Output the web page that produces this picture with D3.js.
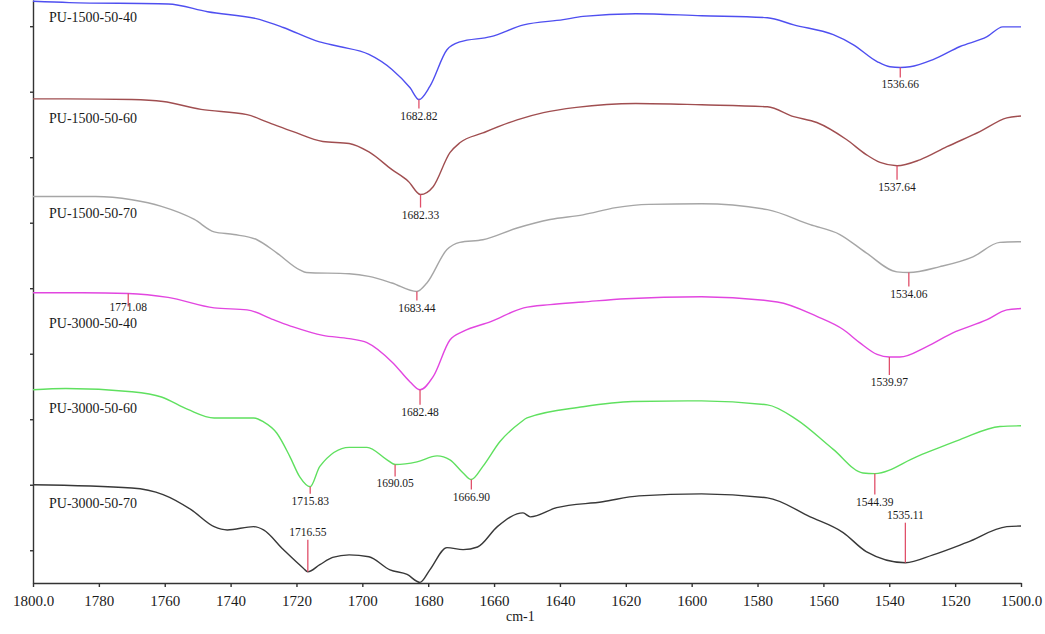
<!DOCTYPE html>
<html>
<head>
<meta charset="utf-8">
<script src="https://cdn.jsdelivr.net/npm/d3@7"></script>
<style>
  body { margin: 0; background: #fff; }
  svg { display: block; font-family: "Liberation Serif", "Times New Roman", serif; }
</style>
</head>
<body>
<svg></svg>
<script>
let width = 1045
let height = 634

// FTIR spectra, [wavenumber cm-1, offset transmittance]
let names = ['PU-1500-50-40', 'PU-1500-50-60', 'PU-1500-50-70', 'PU-3000-50-40', 'PU-3000-50-60', 'PU-3000-50-70']
let colors = ['#4f4ff0', '#a04e50', '#a6a6a6', '#e246e0', '#5fe05f', '#383838']

let pu1500_40 = [[1800, 88.8], [1789, 88.6], [1759, 88.4], [1747, 87.2], [1731, 86.0], [1724, 84.8], [1713, 82.6], [1707, 81.9],
  [1698, 80.7], [1691, 78.4], [1685.5, 75.6], [1682.82, 73.8], [1679.5, 75.8], [1674.3, 81.4], [1670.4, 82.6], [1661, 83.4],
  [1651, 85.2], [1639, 86.0], [1633, 86.5], [1617, 86.9], [1597, 86.6], [1577, 86.3], [1569, 85.2], [1557, 83.7], [1551, 82.2],
  [1543.7, 79.6], [1539.8, 78.8], [1536.66, 78.7], [1533.7, 78.8], [1526.7, 79.9], [1518.5, 81.9], [1510.3, 83.4], [1505.5, 84.9], [1500, 84.9]]

let pu1500_60 = [[1800, 73.9], [1790, 73.9], [1770, 73.8], [1760.5, 73.5], [1749, 72.3], [1735, 71.5], [1729, 70.4], [1721, 68.9],
  [1712, 67.4], [1704, 67.1], [1698, 65.8], [1691, 63.1], [1686, 61.3], [1682.33, 59.3], [1678.5, 60.5], [1673.4, 65.7], [1670.4, 67.2],
  [1663.4, 68.7], [1653, 70.7], [1645, 71.8], [1635, 72.6], [1617, 73.2], [1597, 73.0], [1577, 72.7], [1569, 71.2], [1562, 70.3],
  [1553, 67.7], [1547, 65.4], [1542.8, 64.2], [1537.64, 63.7], [1530.7, 64.6], [1522.5, 66.6], [1512.5, 68.9], [1504.3, 71.0], [1500, 71.3]]

let pu1500_70 = [[1800, 59.0], [1781, 59.0], [1770, 58.5], [1761, 57.5], [1751, 55.5], [1745, 53.6], [1739, 53.2], [1732, 52.4],
  [1726, 50.4], [1719, 47.8], [1717, 47.4], [1704, 47.2], [1698, 46.8], [1691, 45.8], [1683.44, 44.5], [1680.4, 45.8], [1674.3, 50.9],
  [1670.4, 52.0], [1663.4, 52.4], [1653, 54.2], [1643, 55.5], [1633, 56.2], [1623, 57.3], [1613, 57.8], [1597, 57.9], [1577, 57.0],
  [1564, 54.7], [1555, 53.2], [1547, 50.4], [1537.7, 47.5], [1534.06, 47.4], [1524.6, 48.3], [1514.6, 49.8], [1506.4, 52.0], [1500, 52.1]]

let pu3000_40 = [[1800, 44.3], [1785, 44.3], [1771.08, 44.2], [1759, 43.6], [1745, 42.0], [1735, 41.7], [1727, 40.2], [1721, 39.1],
  [1712, 37.8], [1704, 37.3], [1698.6, 36.7], [1690.7, 33.6], [1685.5, 30.7], [1682.48, 29.5], [1678.5, 31.5], [1673.4, 37.1],
  [1669.4, 38.4], [1661, 39.9], [1651, 42.0], [1643, 42.5], [1633, 42.9], [1620, 43.4], [1597, 43.7], [1574, 42.9], [1562, 40.7],
  [1554, 38.7], [1549, 36.7], [1543.7, 34.9], [1539.97, 34.5], [1536.8, 34.5], [1528.6, 36.1], [1520.7, 38.2], [1510.3, 40.2],
  [1504.3, 41.7], [1500, 41.9]]

let pu3000_60 = [[1800, 29.5], [1790, 29.7], [1770, 29.2], [1761, 28.4], [1753, 26.5], [1745, 25.2], [1733, 25.2], [1730, 24.6],
  [1726, 22.9], [1722, 19.3], [1719, 16.2], [1715.83, 14.7], [1712.9, 17.8], [1704, 20.7], [1698.6, 20.7], [1692.5, 18.8],
  [1690.05, 18.1], [1683.4, 18.5], [1677.3, 19.4], [1673.4, 18.8], [1669.4, 16.8], [1666.9, 15.8], [1663.4, 17.8], [1658.2, 21.6],
  [1652, 24.5], [1650, 25.2], [1633, 26.9], [1618, 27.7], [1597, 27.8], [1577, 27.2], [1568, 24.9], [1557, 20.4], [1548, 16.8],
  [1544.39, 16.7], [1531.6, 19.3], [1518.5, 21.9], [1506.4, 23.9], [1500, 24.0]]

let pu3000_70 = [[1800, 15.0], [1770, 14.5], [1760.5, 13.5], [1752, 11.2], [1745, 8.6], [1741, 8.1], [1733, 8.6], [1730, 8.1],
  [1724, 5.1], [1718, 2.3], [1716.55, 1.7], [1712.9, 2.8], [1709, 3.9], [1704, 4.3], [1698, 4.0], [1691.6, 2.0], [1686.4, 1.3],
  [1682.5, 0.1], [1679.5, 2.0], [1674.3, 5.4], [1669.4, 5.1], [1665, 5.5], [1659, 8.6], [1651.2, 10.7], [1649, 10.1], [1641, 11.5],
  [1627, 12.4], [1616, 13.3], [1597, 13.6], [1577, 13.0], [1564, 10.1], [1554, 7.7], [1547, 4.8], [1535.11, 3.1], [1526.7, 4.3],
  [1516.4, 6.2], [1504.3, 8.6], [1500, 8.7]]

let spectra = [pu1500_40, pu1500_60, pu1500_70, pu3000_40, pu3000_60, pu3000_70]

// peak picks: [spectrum index, wavenumber, label]
let peaks = [
  [0, 1682.82, '1682.82'], [0, 1536.66, '1536.66'],
  [1, 1682.33, '1682.33'], [1, 1537.64, '1537.64'],
  [2, 1683.44, '1683.44'], [2, 1534.06, '1534.06'],
  [3, 1771.08, '1771.08'], [3, 1682.48, '1682.48'], [3, 1539.97, '1539.97'],
  [4, 1715.83, '1715.83'], [4, 1690.05, '1690.05'], [4, 1666.90, '1666.90'], [4, 1544.39, '1544.39'],
  [5, 1716.55, '1716.55'], [5, 1535.11, '1535.11']
]

let xTicks = d3.range(1800, 1499, -20)

// marker length in px (negative = marker drawn upward, label above)
let markLen = { '1682.82': 9, '1536.66': 10, '1682.33': 13, '1537.64': 14, '1683.44': 9, '1534.06': 14, '1771.08': 13,
  '1682.48': 15, '1539.97': 18, '1715.83': 7, '1690.05': 12, '1666.90': 10, '1544.39': 21, '1716.55': -32, '1535.11': -40 }
let labelGap = { '1771.08': 5 }
let nameDy = [21, 24, 21, 35, 23, 23]

let xScale = d3.scaleLinear()
                .domain([1800, 1500])
                .range([33, 1021])

let yScale = d3.scaleLinear()
                .domain([0, 89])
                .range([583, 0])

let svg = d3.select('svg')
    .attr('width', width)
    .attr('height', height)

let xAxis = d3.axisBottom(xScale)
              .tickValues(xTicks)
              .tickSize(4)
              .tickSizeOuter(0)
              .tickPadding(8)
              .tickFormat(d => (d === 1800 || d === 1500) ? d.toFixed(1) : d)

let yAxis = d3.axisLeft(yScale)
              .tickValues(d3.range(5, 90, 10))
              .tickSize(3)
              .tickSizeOuter(0)
              .tickFormat('')

let gx = svg.append('g')
    .attr('transform', `translate(0, ${yScale(0)})`)
    .call(xAxis)
gx.selectAll('text')
    .style('font-family', '"Liberation Serif", "Times New Roman", serif')
    .style('font-size', '15px')
    .attr('fill', '#1a1a1a')

let gy = svg.append('g')
    .attr('transform', `translate(${xScale(1800)}, 0)`)
    .call(yAxis)

svg.selectAll('.domain, .tick line')
    .attr('stroke', '#333')
    .attr('stroke-width', 1.4)

let line = d3.line()
    .x(d => xScale(d[0]))
    .y(d => yScale(d[1]))
    .curve(d3.curveMonotoneX)

svg.append('g')
  .selectAll('path')
  .data(spectra)
  .enter()
  .append('path')
    .attr('d', line)
    .attr('fill', 'none')
    .attr('stroke', (d, i) => colors[i])
    .attr('stroke-width', 1.4)

svg.append('g')
  .selectAll('text')
  .data(names)
  .enter()
  .append('text')
    .attr('x', 49)
    .attr('y', (d, i) => yScale(spectra[i][0][1]) + nameDy[i])
    .style('font-size', '14px')
    .attr('fill', '#1a1a1a')
    .text(d => d)

function valueAt (series, wn) {
  let i = series.findIndex(p => p[0] <= wn)
  if (i <= 0) return series[0][1]
  let a = series[i - 1], b = series[i]
  return a[1] + (b[1] - a[1]) * (wn - a[0]) / (b[0] - a[0])
}

let marks = svg.append('g')
  .selectAll('g')
  .data(peaks)
  .enter()
  .append('g')

marks.append('line')
    .attr('x1', d => xScale(d[1]))
    .attr('x2', d => xScale(d[1]))
    .attr('y1', d => yScale(valueAt(spectra[d[0]], d[1])))
    .attr('y2', d => yScale(valueAt(spectra[d[0]], d[1])) + markLen[d[2]])
    .attr('stroke', '#e0506a')
    .attr('stroke-width', 1.3)

marks.append('text')
    .attr('x', d => xScale(d[1]))
    .attr('y', d => {
      let y0 = yScale(valueAt(spectra[d[0]], d[1])) + markLen[d[2]]
      return markLen[d[2]] > 0 ? y0 + (labelGap[d[2]] || 11) : y0 - 4
    })
    .style('text-anchor', 'middle')
    .style('font-size', '11.5px')
    .attr('fill', '#1a1a1a')
    .text(d => d[2])

svg.append('text')
    .attr('x', xScale(1652))
    .attr('y', 621)
    .style('text-anchor', 'middle')
    .style('font-size', '14px')
    .attr('fill', '#1a1a1a')
    .text('cm-1')
</script>
</body>
</html>
